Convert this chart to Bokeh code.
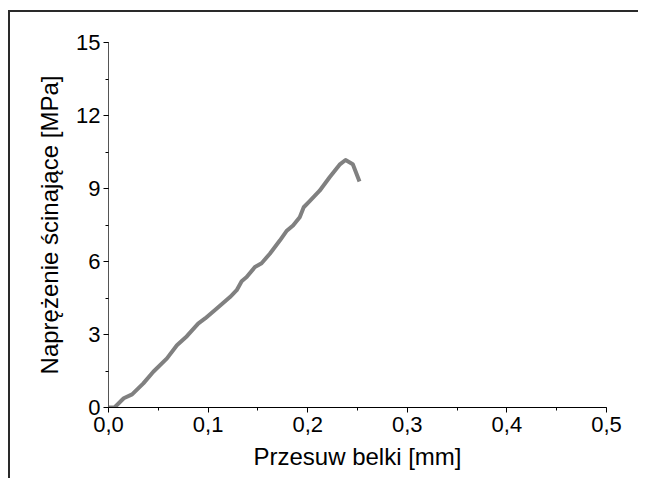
from bokeh.plotting import figure
from bokeh.models import SingleIntervalTicker, CustomJSTickFormatter, Range1d
from bokeh.embed import file_html
from bokeh.resources import INLINE

# Data
przesuw = [0.0, 0.006, 0.0153, 0.0237, 0.035, 0.045, 0.0587, 0.0687, 0.0787, 0.090,
           0.097, 0.1087, 0.122, 0.1287, 0.1337, 0.1387, 0.147, 0.1537, 0.162, 0.172,
           0.1787, 0.1853, 0.192, 0.196, 0.202, 0.212, 0.222, 0.232, 0.238, 0.2453, 0.252]
naprezenie = [0.0, 0.0, 0.38, 0.54, 0.99, 1.47, 2.02, 2.56, 2.93, 3.45,
              3.66, 4.07, 4.54, 4.82, 5.19, 5.36, 5.77, 5.93, 6.32, 6.86,
              7.25, 7.48, 7.82, 8.23, 8.48, 8.91, 9.46, 9.98, 10.17, 10.0, 9.29]

x_label = "Przesuw belki [mm]"
y_label = "Naprężenie ścinające [MPa]"

FONT = "Liberation Sans"

p = figure(width=630, height=468, output_backend="svg", toolbar_location=None,
           x_range=Range1d(0, 0.5), y_range=Range1d(0, 15),
           min_border_left=98, min_border_right=34, min_border_top=30, min_border_bottom=73)
p.styles = {"margin-left": "10px", "margin-top": "12px",
            "box-shadow": "-2px -2px 0px 0px #2a2a2a"}

p.line(przesuw, naprezenie, line_color="#808080", line_width=4, line_join="round")

p.xgrid.visible = False
p.ygrid.visible = False
p.outline_line_color = None
p.background_fill_color = "white"
p.border_fill_color = "white"

p.xaxis.ticker = SingleIntervalTicker(interval=0.1, num_minor_ticks=2)
p.yaxis.ticker = SingleIntervalTicker(interval=3, num_minor_ticks=2)
p.xaxis.formatter = CustomJSTickFormatter(code="return tick.toFixed(1).replace('.', ',');")
p.yaxis.formatter = CustomJSTickFormatter(code="return tick.toFixed(0);")

p.xaxis.axis_label = x_label
p.yaxis.axis_label = y_label

for ax in (p.xaxis, p.yaxis):
    ax.axis_label_text_font = FONT
    ax.axis_label_text_font_size = "24px"
    ax.axis_label_text_font_style = "normal"
    ax.axis_label_text_color = "black"
    ax.major_label_text_font = FONT
    ax.major_label_text_font_size = "22px"
    ax.major_label_text_color = "black"
    ax.major_tick_out = 5
    ax.major_tick_in = 0
    ax.minor_tick_out = 3
    ax.minor_tick_in = 0
    ax.major_tick_line_color = "black"
    ax.minor_tick_line_color = "black"

p.xaxis.axis_line_color = "black"
p.yaxis.axis_line_color = "#555555"
p.xaxis.major_label_standoff = 4
p.yaxis.major_label_standoff = 3
p.xaxis.axis_label_standoff = 8
p.yaxis.axis_label_standoff = 10

open("out.html", "w").write(file_html(p, INLINE))
